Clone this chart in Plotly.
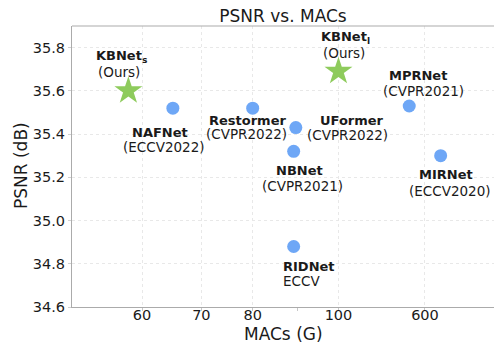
import numpy as np
import plotly.graph_objects as go

# ---------------- data ----------------
methods = ["NAFNet", "Restormer", "UFormer", "NBNet", "RIDNet", "MPRNet", "MIRNet"]
venues = ["(ECCV2022)", "(CVPR2022)", "(CVPR2022)", "(CVPR2021)", "ECCV", "(CVPR2021)", "(ECCV2020)"]
macs = [65, 80, 89.5, 89.0, 89.0, 433, 830]
psnr = [35.52, 35.52, 35.43, 35.32, 34.88, 35.53, 35.30]

ours = ["KBNet<sub>s</sub>", "KBNet<sub>l</sub>"]
ours_venue = ["(Ours)", "(Ours)"]
ours_macs = [57.9, 100]
ours_psnr = [35.60, 35.69]

tick_macs = [60, 70, 80, 100, 600]
tick_labels = ["60", "70", "80", "100", "600"]
minor_macs = [90]
y_ticks = [34.6, 34.8, 35.0, 35.2, 35.4, 35.6, 35.8]
y_tick_labels = ["34.6", "34.8", "35.0", "35.2", "35.4", "35.6", "35.8"]

# ---------------- axis transform (log scale with compressed segment above 100) ----------------
BREAK = 100.0
BREAK_SCALE = 0.1256


def axis_x(m):
    m = np.asarray(m, dtype=float)
    lg = np.log10(m)
    b = np.log10(BREAK)
    return np.where(m <= BREAK, lg, b + (lg - b) * BREAK_SCALE)


FONT = "DejaVu Sans"
DOT = "#6ea7f6"
STAR = "#8ecb5c"
TXT = "#1a1a1a"
SPINE = "#ababab"
GRID = "#e8e8e8"

fig = go.Figure()
fig.add_trace(go.Scatter(
    x=axis_x(macs), y=psnr, mode="markers",
    marker=dict(size=13, color=DOT, line=dict(width=0)),
    hoverinfo="skip", showlegend=False))
fig.add_trace(go.Scatter(
    x=axis_x(ours_macs), y=ours_psnr, mode="markers",
    marker=dict(size=21, color=STAR, symbol="star", line=dict(width=0)),
    hoverinfo="skip", showlegend=False))

# label offsets (pixels): (dx_title, dy_title, dx_sub, dy_sub, anchor)
label_style = {
    "NAFNet": (-13, -24, -9, -39, "center"),
    "Restormer": (-5, -12, -6, -26, "center"),
    "UFormer": (56, 7, 52, -7, "center"),
    "NBNet": (6, -19, 9, -35, "center"),
    "RIDNet": (-13, -20, -13, -35, "left"),
    "MPRNet": (9, 30, 14, 15, "center"),
    "MIRNet": (5, -19, 9, -35, "center"),
    "KBNet<sub>s</sub>": (-7, 34, -9, 19, "center"),
    "KBNet<sub>l</sub>": (7, 34, 6, 18, "center"),
}

all_names = methods + ours
all_venues = venues + ours_venue
all_x = list(axis_x(macs)) + list(axis_x(ours_macs))
all_y = psnr + ours_psnr

for name, ven, xv, yv in zip(all_names, all_venues, all_x, all_y):
    dxt, dyt, dxs, dys, anc = label_style[name]
    fig.add_annotation(x=xv, y=yv, xref="x", yref="y", text="<b>" + name + "</b>",
                       showarrow=False, xshift=dxt, yshift=dyt, xanchor=anc, yanchor="middle",
                       font=dict(family=FONT, size=13, color=TXT))
    fig.add_annotation(x=xv, y=yv, xref="x", yref="y", text=ven,
                       showarrow=False, xshift=dxs, yshift=dys, xanchor=anc, yanchor="middle",
                       font=dict(family=FONT, size=13.5, color=TXT))

# axis titles placed in paper pixels
W, H = 494, 347
ML, MR, MT, MB = 72, 0, 26, 40
PW, PH = W - ML - MR, H - MT - MB


def px_to_paper(px, py):
    return (px - ML) / PW, 1 - (py - MT) / PH


xt = px_to_paper(283, 334)
fig.add_annotation(x=xt[0], y=xt[1], xref="paper", yref="paper", text="MACs (G)",
                   showarrow=False, xanchor="center", yanchor="middle",
                   font=dict(family=FONT, size=17, color=TXT))
yt = px_to_paper(21, 166)
fig.add_annotation(x=yt[0], y=yt[1], xref="paper", yref="paper", text="PSNR (dB)",
                   showarrow=False, xanchor="center", yanchor="middle", textangle=-90,
                   font=dict(family=FONT, size=17, color=TXT))

# top spine
fig.add_shape(type="line", xref="paper", yref="paper", x0=0, x1=1, y0=1, y1=1,
              line=dict(color=SPINE, width=1.2))

xr_left = axis_x([50])[0]
xr_right = 2 + (494 - 338.5) / 885

fig.update_layout(
    width=W, height=H,
    margin=dict(l=ML, r=MR, t=MT, b=MB, autoexpand=False),
    paper_bgcolor="white", plot_bgcolor="white",
    title=dict(text="PSNR vs. MACs", x=283 / W, xanchor="center", y=1 - 16 / H,
               yanchor="middle", font=dict(family=FONT, size=17, color=TXT)),
    font=dict(family=FONT, color=TXT),
    xaxis=dict(
        range=[xr_left, xr_right],
        tickmode="array", tickvals=axis_x(tick_macs), ticktext=tick_labels,
        showgrid=True, gridcolor=GRID, griddash="dot", gridwidth=1,
        showline=True, linecolor=SPINE, linewidth=1.2, mirror=False,
        ticks="", ticklabelstandoff=-6,
        tickfont=dict(family=FONT, size=14.5, color=TXT),
        minor=dict(tickmode="array", tickvals=axis_x(tick_macs + minor_macs), ticks="outside",
                   ticklen=3, tickcolor="#c8c8c8", showgrid=False),
        zeroline=False, automargin=False,
    ),
    yaxis=dict(
        range=[34.6, 35.9],
        tickmode="array", tickvals=y_ticks, ticktext=y_tick_labels,
        showgrid=True, gridcolor=GRID, griddash="dot", gridwidth=1,
        showline=True, linecolor=SPINE, linewidth=1.2, mirror=False,
        ticks="outside", ticklen=3, tickcolor="#d0d0d0",
        tickfont=dict(family=FONT, size=14.5, color=TXT),
        zeroline=False, automargin=False,
    ),
)

fig.write_html("out.html", config={"displayModeBar": False},
               post_script="document.body.style.margin='0';document.body.style.overflow='hidden';")
